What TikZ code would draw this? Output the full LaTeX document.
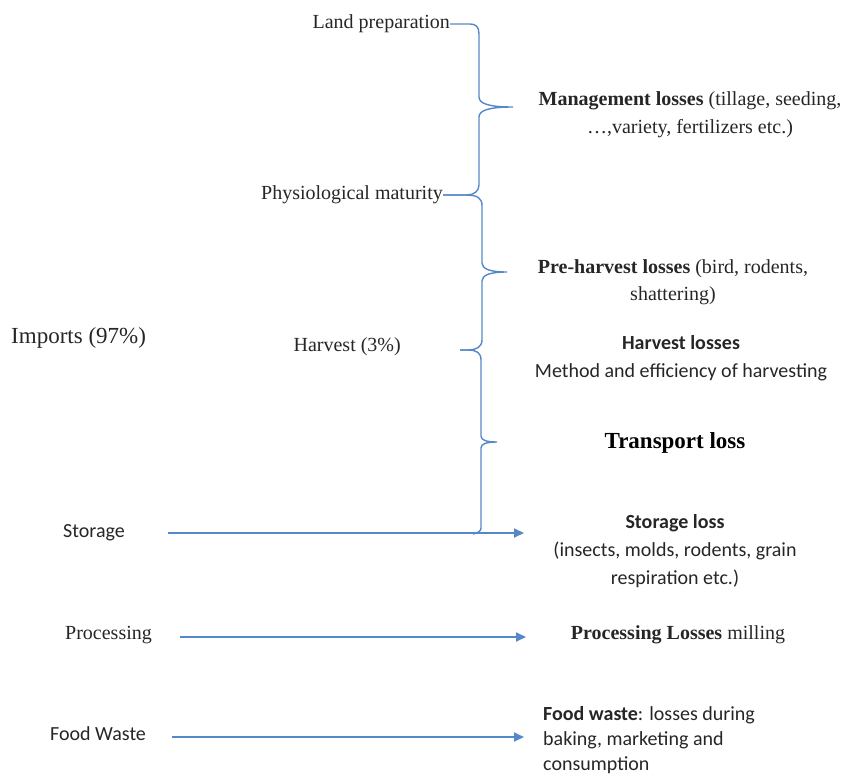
\documentclass[tikz,border=0pt]{standalone}
\usepackage{fontspec}
\setmainfont{Liberation Serif}
\newfontfamily\calibri{Carlito}
\usetikzlibrary{arrows.meta}
\definecolor{lossblue}{RGB}{84,136,200}

\begin{document}
\begin{tikzpicture}[x=1pt,y=-1pt,
  stage/.style={font=\fontsize{20}{26}\selectfont, text=black!85, inner sep=0pt},
  sansstage/.style={stage, font=\calibri\fontsize{20}{26}\selectfont},
  loss/.style={stage, align=center, font=\fontsize{20}{28}\selectfont},
  sansloss/.style={loss, font=\calibri\fontsize{20}{28}\selectfont},
  brace/.style={draw=lossblue, line width=1.4pt},
  flow/.style={draw=lossblue, line width=1.8pt, -{Triangle[length=10pt,width=9pt]}}]
  \useasboundingbox (0,0) rectangle (843,777);

  % stages
  \node[stage, anchor=east] (land) at (450,24) {Land preparation};
  \node[stage, anchor=east] (phys) at (443,195) {Physiological maturity};
  \node[stage, anchor=east] (harv) at (401,347) {Harvest (3\%)};
  \node[stage, anchor=west, font=\fontsize{23}{28}\selectfont] (imp) at (11,338) {Imports (97\%)};
  \node[sansstage, anchor=west] (stor) at (63,533) {Storage};
  \node[stage, anchor=west] (proc) at (65,635) {Processing};
  \node[sansstage, anchor=west] (food) at (50,734) {Food Waste};

  % losses
  \node[loss] (mgmt) at (690,115) {\textbf{Management losses} (tillage, seeding,\\\ldots,variety, fertilizers etc.)};
  \node[loss, font=\fontsize{20}{27}\selectfont] (preh) at (673,282) {\textbf{Pre-harvest losses} (bird, rodents,\\shattering)};
  \node[sansloss] (harvl) at (681,358) {\textbf{Harvest losses}\\Method and efficiency of harvesting};
  \node[loss, font=\fontsize{23}{28}\selectfont\bfseries, text=black] (trans) at (675,443) {Transport loss};
  \node[sansloss] (storl) at (675,551) {\textbf{Storage loss}\\(insects, molds, rodents, grain\\respiration etc.)};
  \node[loss] (procl) at (678,635) {\textbf{Processing Losses} milling};
  \node[sansloss, align=left, anchor=west, font=\calibri\fontsize{20}{25}\selectfont] (foodl) at (543,740) {\textbf{Food waste}: losses during\\baking, marketing and\\consumption};

  % braces
  \coordinate (harvTop) at (460,350);
  \draw[brace] (land.east) -- (470,24) .. controls (476,24) and (479,27) .. (479,34)
    -- (479,97) .. controls (479,104) and (490,107) .. (513,107)
    .. controls (490,107) and (479,110) .. (479,117)
    -- (479,185) .. controls (479,191) and (474,195) .. (467,195) -- (phys.east);
  \draw[brace] (phys.east) -- (465,195) .. controls (478,195) and (482,198) .. (482,206)
    -- (482,263) .. controls (482,269) and (490,272) .. (507,272)
    .. controls (490,272) and (482,275) .. (482,281)
    -- (482,340) .. controls (482,347) and (476,350) .. (468,350) -- (harvTop);
  \draw[brace] (harvTop) -- (468,350) .. controls (477,350) and (481,353) .. (481,360)
    -- (481,436) .. controls (481,440) and (486,442) .. (497,442)
    .. controls (486,442) and (481,444) .. (481,448)
    -- (481,528) .. controls (481,531) and (478,533) .. (473,534);

  % arrows
  \coordinate (storEnd) at (524,533);
  \coordinate (procEnd) at (526,637);
  \coordinate (foodEnd) at (524,737);
  \draw[flow] ([xshift=43pt]stor.east) -- (storEnd);
  \draw[flow] ([xshift=28pt,yshift=-2pt]proc.east) -- (procEnd);
  \draw[flow] ([xshift=26pt,yshift=-3pt]food.east) -- (foodEnd);
\end{tikzpicture}
\end{document}
